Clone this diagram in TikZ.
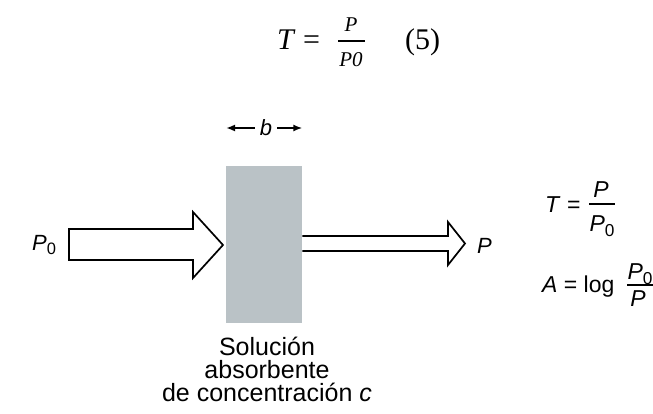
\documentclass[tikz,border=0pt]{standalone}
\usepackage{fontspec}
\setmainfont{Liberation Serif}
\newfontfamily\figfont{Liberation Sans}
\usetikzlibrary{positioning,calc,arrows.meta}
\definecolor{cellgray}{RGB}{186,194,198}
\newcommand{\Pnull}{\textit{P}\raisebox{-0.22em}{\scalebox{0.75}{0}}}

\begin{document}
\begin{tikzpicture}[x=1pt,y=-1pt,
 lbl/.style={font=\figfont\fontsize{22}{22}\selectfont,inner sep=0pt},
 defn/.style={font=\figfont\fontsize{23}{23}\selectfont,inner sep=0pt},
 eqn/.style={font=\fontsize{30}{30}\selectfont,inner sep=0pt},
 small/.style={font=\fontsize{21}{21}\selectfont,inner sep=0pt},
 beam/.style={draw,line width=1.7pt,fill=white,line join=miter},
 ar/.style={-{Latex[length=9pt,width=7pt]},line width=1.8pt}]
\useasboundingbox (0,0) rectangle (653,414);

% T = P/P0 (5)
\node[eqn,anchor=base west] (eqT) at (277,50) {\textit{T} =};
\node[small,anchor=base] (eqnum) at (351,32) {\textit{P}};
\node[small,anchor=base] (eqden) at (351,67) {\textit{P0}};
\draw[line width=2.6pt] (338,41) -- (365,41);
\node[eqn,anchor=base west] (eqno) at (405,50) {(5)};

% cell with the solution
\node[draw=none,fill=cellgray,minimum width=76pt,minimum height=157pt,inner sep=0pt,anchor=north west] (cell) at (226,166) {};
\node[lbl,font=\figfont\fontsize{22}{22}\selectfont\itshape] (b) at (266,128) {b};
\coordinate (bl) at (cell.west |- b);
\coordinate (br) at (cell.east |- b);
\draw[ar] (b.west) ++(-5,0) -- (bl);
\draw[ar] (b.east) ++(5,0) -- (br);

% incoming beam
\draw[beam] (69,229) -- (193,229) -- (193,212) -- (223,245) -- (193,278) -- (193,260) -- (69,260) -- cycle;
\node[lbl,anchor=base west] (p0) at (32,250) {\Pnull};

% outgoing beam
\draw[beam] (cell.east |- 0,236) -- (448,236) -- (448,222) -- (465,243.5) -- (448,265) -- (448,251) -- (cell.east |- 0,251);
\node[lbl,anchor=base west] (p) at (477,253) {\textit{P}};

% definitions
\node[defn,anchor=base west] (tdef) at (545,213) {\textit{T} =};
\node[defn,anchor=base] (tnum) at (601,198) {\textit{P}};
\node[defn,anchor=base] (tden) at (602,231) {\Pnull};
\draw[line width=1.5pt] (589,204) -- (615,204);
\node[defn,anchor=base west] (adef) at (542,292) {\textit{A} = log};
\node[defn,anchor=base] (anum) at (640,279) {\Pnull};
\draw[line width=1.5pt] (627,285) -- (653,285);
\node[defn,anchor=base] (aden) at (638,306) {\textit{P}};

% caption
\node[lbl,font=\figfont\fontsize{25}{23}\selectfont,align=center,anchor=north] (cap) at (267,337)
 {Solución\\ absorbente\\ de concentración \textit{c}};
\end{tikzpicture}
\end{document}
